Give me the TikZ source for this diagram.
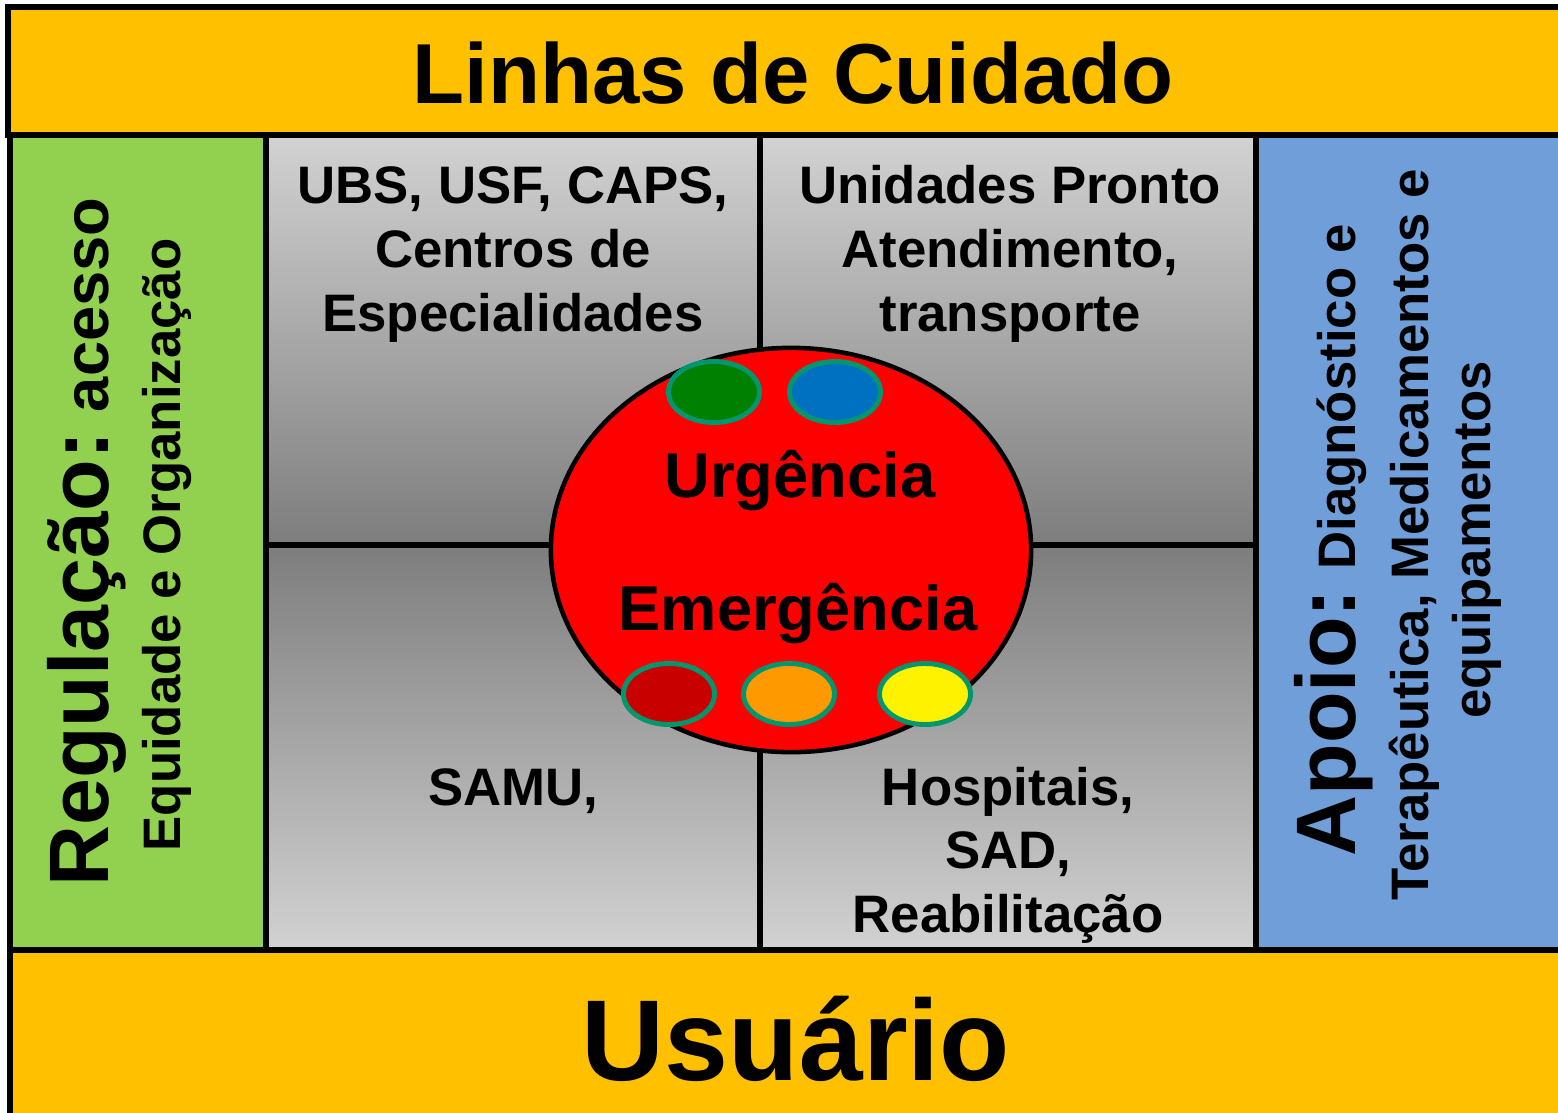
\documentclass[tikz,border=0pt]{standalone}
\usepackage{fontspec}
\setmainfont{Liberation Sans}
\usetikzlibrary{shapes.geometric}
\definecolor{gold}{RGB}{255,192,0}
\definecolor{leaf}{RGB}{146,208,80}
\definecolor{sky}{RGB}{112,158,216}
\definecolor{lgray}{RGB}{210,210,210}
\definecolor{dgray}{RGB}{125,125,125}
\definecolor{rim}{RGB}{0,150,110}
\definecolor{dred}{RGB}{200,0,0}
\definecolor{ublue}{RGB}{0,112,192}
\definecolor{uorange}{RGB}{255,153,0}
\definecolor{ugreen}{RGB}{0,128,0}
\begin{document}
\begin{tikzpicture}[x=0.01cm,y=-0.01cm,
  panel/.style={draw=black, line width=1.6pt},
  dot/.style={ellipse, draw=rim, line width=1.4pt, minimum width=0.91cm, minimum height=0.61cm, inner sep=0pt},
  lbl/.style={anchor=base, inner sep=0pt, font=\fontsize{15}{18}\selectfont\bfseries},
  side/.style={lbl, rotate=90}]
\useasboundingbox (0,0) rectangle (1558,1112);
\clip (0,0) rectangle (1558,1112);
% panels
\draw[panel, fill=gold] (8,7) rectangle (1600,135);
\draw[panel, fill=leaf] (10,135) rectangle (266,950);
\draw[panel, top color=lgray, bottom color=dgray] (266,135) rectangle (760,545);
\draw[panel, top color=lgray, bottom color=dgray] (760,135) rectangle (1256,545);
\draw[panel, top color=dgray, bottom color=lgray] (266,545) rectangle (760,950);
\draw[panel, top color=dgray, bottom color=lgray] (760,545) rectangle (1256,950);
\draw[panel, fill=sky] (1256,135) rectangle (1600,950);
\draw[panel, fill=gold] (10,950) rectangle (1600,1150);
% center
\node[ellipse, draw, fill=red, line width=1.3pt, minimum width=4.8cm, minimum height=4.04cm] (urg) at (791,550){};
\node[dot, fill=ugreen] (d1) at (714,392){};
\node[dot, fill=ublue] (d2) at (835,392){};
\node[dot, fill=dred] (d3) at (669,694){};
\node[dot, fill=uorange] (d4) at (789,694){};
\node[dot, fill=yellow] (d5) at (925,694){};
\node[lbl, font=\fontsize{18}{22}\selectfont\bfseries] (urg1) at (800,497){Urgência};
\node[lbl, font=\fontsize{18}{22}\selectfont\bfseries] (urg2) at (798,630){Emergência};
% bars
\node[lbl, font=\fontsize{24.2}{28}\selectfont\bfseries] (title) at (793,103){Linhas de Cuidado};
\node[lbl, font=\fontsize{32.7}{36}\selectfont\bfseries] (user) at (796,1080){Usuário};
% boxes
\node[lbl] (ubs1) at (513,203){UBS, USF, CAPS,};
\node[lbl] (ubs2) at (513,267){Centros de};
\node[lbl] (ubs3) at (513,331){Especialidades};
\node[lbl] (upa1) at (1010,203){Unidades Pronto};
\node[lbl] (upa2) at (1010,267){Atendimento,};
\node[lbl] (upa3) at (1010,331){transporte};
\node[lbl] (samu) at (513,805){SAMU,};
\node[lbl] (hosp1) at (1008,805){Hospitais,};
\node[lbl] (hosp2) at (1008,868){SAD,};
\node[lbl] (hosp3) at (1008,932){Reabilitação};
% sides
\node[side] (reg1) at (108,542){{\fontsize{24}{28}\selectfont Regulação:} {\fontsize{18}{22}\selectfont acesso}};
\node[side] (reg2) at (180,545){Equidade e Organização};
\node[side] (apo1) at (1355,540){{\fontsize{24}{28}\selectfont Apoio:} Diagnóstico e};
\node[side] (apo2) at (1428,535){Terapêutica, Medicamentos e};
\node[side] (apo3) at (1490,540){equipamentos};
\end{tikzpicture}
\end{document}
